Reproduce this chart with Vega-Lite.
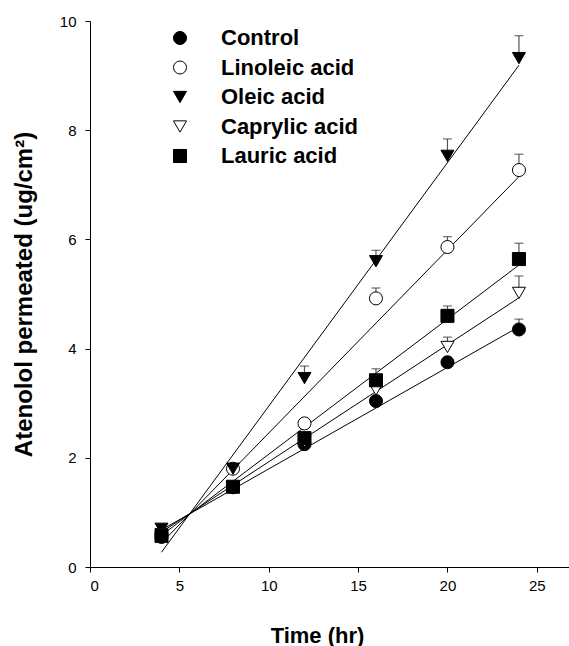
{
  "$schema": "https://vega.github.io/schema/vega-lite/v6.json",
  "autosize": "none",
  "width": 479,
  "height": 546,
  "padding": {"left": 90, "top": 21, "right": 0, "bottom": 79},
  "background": "white",
  "config": {
    "view": {"stroke": null},
    "font": "Liberation Sans",
    "axis": {"grid": false, "domainColor": "black", "tickColor": "black", "labelColor": "black", "titleColor": "black", "labelFont": "Liberation Sans", "titleFont": "Liberation Sans", "tickSize": 5, "domainWidth": 1, "tickWidth": 1}
  },
  "datasets": {
    "pts": [
      {"series": "Control", "time": 4, "value": 0.55, "upper": 0.58},
      {"series": "Control", "time": 8, "value": 1.46, "upper": 1.5},
      {"series": "Control", "time": 12, "value": 2.25, "upper": 2.3},
      {"series": "Control", "time": 16, "value": 3.04, "upper": 3.1},
      {"series": "Control", "time": 20, "value": 3.75, "upper": 3.82},
      {"series": "Control", "time": 24, "value": 4.35, "upper": 4.54},
      {"series": "Linoleic acid", "time": 4, "value": 0.6, "upper": 0.63},
      {"series": "Linoleic acid", "time": 8, "value": 1.8, "upper": 1.85},
      {"series": "Linoleic acid", "time": 12, "value": 2.63, "upper": 2.68},
      {"series": "Linoleic acid", "time": 16, "value": 4.92, "upper": 5.11},
      {"series": "Linoleic acid", "time": 20, "value": 5.86, "upper": 6.05},
      {"series": "Linoleic acid", "time": 24, "value": 7.27, "upper": 7.56},
      {"series": "Oleic acid", "time": 4, "value": 0.7, "upper": 0.73},
      {"series": "Oleic acid", "time": 8, "value": 1.8, "upper": 1.84},
      {"series": "Oleic acid", "time": 12, "value": 3.46, "upper": 3.68},
      {"series": "Oleic acid", "time": 16, "value": 5.6, "upper": 5.8},
      {"series": "Oleic acid", "time": 20, "value": 7.53, "upper": 7.84},
      {"series": "Oleic acid", "time": 24, "value": 9.32, "upper": 9.73},
      {"series": "Caprylic acid", "time": 4, "value": 0.6, "upper": 0.63},
      {"series": "Caprylic acid", "time": 8, "value": 1.46, "upper": 1.5},
      {"series": "Caprylic acid", "time": 12, "value": 2.3, "upper": 2.35},
      {"series": "Caprylic acid", "time": 16, "value": 3.25, "upper": 3.45},
      {"series": "Caprylic acid", "time": 20, "value": 4.03, "upper": 4.21},
      {"series": "Caprylic acid", "time": 24, "value": 5.02, "upper": 5.33},
      {"series": "Lauric acid", "time": 4, "value": 0.57, "upper": 0.6},
      {"series": "Lauric acid", "time": 8, "value": 1.47, "upper": 1.51},
      {"series": "Lauric acid", "time": 12, "value": 2.36, "upper": 2.45},
      {"series": "Lauric acid", "time": 16, "value": 3.42, "upper": 3.63},
      {"series": "Lauric acid", "time": 20, "value": 4.6, "upper": 4.78},
      {"series": "Lauric acid", "time": 24, "value": 5.64, "upper": 5.93}
    ],
    "fits": [
      {"series": "Control", "time": 4, "value": 0.68},
      {"series": "Control", "time": 24, "value": 4.4},
      {"series": "Linoleic acid", "time": 4, "value": 0.44},
      {"series": "Linoleic acid", "time": 24, "value": 7.15},
      {"series": "Oleic acid", "time": 4, "value": 0.27},
      {"series": "Oleic acid", "time": 24, "value": 9.19},
      {"series": "Caprylic acid", "time": 4, "value": 0.64},
      {"series": "Caprylic acid", "time": 24, "value": 4.93},
      {"series": "Lauric acid", "time": 4, "value": 0.58},
      {"series": "Lauric acid", "time": 24, "value": 5.53}
    ]
  },
  "encoding": {
    "x": {
      "field": "time", "type": "quantitative",
      "scale": {"domain": [0, 26.8], "nice": false, "zero": false},
      "axis": {"title": "Time (hr)", "values": [0, 5, 10, 15, 20, 25], "labelFontSize": 15, "labelPadding": 6, "titleFontSize": 22, "titleFontWeight": "bold", "titleX": 227, "titleY": 75, "titleBaseline": "alphabetic", "titleAlign": "center"}
    },
    "y": {
      "field": "value", "type": "quantitative",
      "scale": {"domain": [0, 10], "nice": false},
      "axis": {"title": "Atenolol permeated (ug/cm²)", "values": [0, 2, 4, 6, 8, 10], "labelFontSize": 15, "labelPadding": 9, "titleFontSize": 24, "titleFontWeight": "bold", "titleX": -66, "titleY": 273, "titleBaseline": "middle", "titleAlign": "center"}
    }
  },
  "layer": [
    {
      "data": {"name": "fits"},
      "mark": {"type": "line", "color": "black", "strokeWidth": 1},
      "encoding": {"detail": {"field": "series"}}
    },
    {
      "data": {"name": "pts"},
      "mark": {"type": "rule", "color": "#555555", "strokeWidth": 1.2},
      "encoding": {"y2": {"field": "upper"}}
    },
    {
      "data": {"name": "pts"},
      "mark": {"type": "tick", "color": "#333333", "orient": "horizontal", "size": 9, "thickness": 1.2},
      "encoding": {"y": {"field": "upper", "type": "quantitative"}}
    },
    {
      "data": {"name": "pts"},
      "mark": {"type": "point", "strokeWidth": 1, "opacity": 1, "size": 170},
      "encoding": {
        "shape": {
          "field": "series", "type": "nominal",
          "scale": {"domain": ["Control", "Linoleic acid", "Oleic acid", "Caprylic acid", "Lauric acid"], "range": ["circle", "circle", "triangle-down", "triangle-down", "square"]},
          "legend": {"title": null, "orient": "none", "legendX": 79, "legendY": 6, "padding": 0, "labelFontSize": 22, "labelFontWeight": "bold", "labelColor": "black", "labelFont": "Liberation Sans", "labelOffset": 30, "rowPadding": 7.5, "symbolSize": 170, "symbolStrokeWidth": 1}
        },
        "fill": {
          "field": "series", "type": "nominal",
          "scale": {"domain": ["Control", "Linoleic acid", "Oleic acid", "Caprylic acid", "Lauric acid"], "range": ["black", "white", "black", "white", "black"]},
          "legend": {"title": null, "orient": "none", "legendX": 79, "legendY": 6, "padding": 0, "labelFontSize": 22, "labelFontWeight": "bold", "labelColor": "black", "labelFont": "Liberation Sans", "labelOffset": 30, "rowPadding": 7.5, "symbolSize": 170, "symbolStrokeWidth": 1}
        },
        "stroke": {
          "field": "series", "type": "nominal",
          "scale": {"domain": ["Control", "Linoleic acid", "Oleic acid", "Caprylic acid", "Lauric acid"], "range": ["black", "black", "black", "black", "black"]},
          "legend": {"title": null, "orient": "none", "legendX": 79, "legendY": 6, "padding": 0, "labelFontSize": 22, "labelFontWeight": "bold", "labelColor": "black", "labelFont": "Liberation Sans", "labelOffset": 30, "rowPadding": 7.5, "symbolSize": 170, "symbolStrokeWidth": 1}
        }
      }
    }
  ]
}
